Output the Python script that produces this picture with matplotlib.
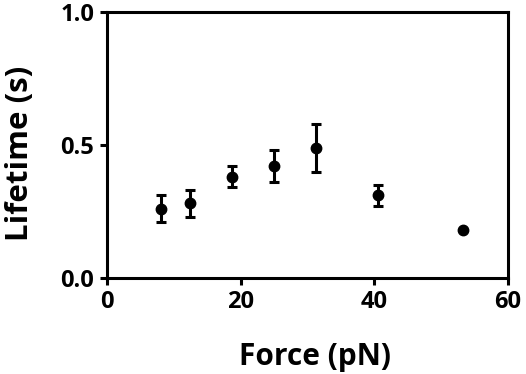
import matplotlib
matplotlib.use('Agg')
import matplotlib.pyplot as plt
import numpy as np

plt.rcParams['font.family'] = ['Open Sans', 'DejaVu Sans']
plt.rcParams['font.weight'] = 'bold'

force = [8.1, 12.4, 18.7, 25.0, 31.3, 40.6, 53.2]
lifetime = [0.26, 0.28, 0.38, 0.42, 0.49, 0.31, 0.18]
err = [0.05, 0.05, 0.04, 0.06, 0.09, 0.04, np.nan]

fig = plt.figure(figsize=(5.26, 3.74), dpi=100)
ax = fig.add_axes([0.203, 0.257, 0.763, 0.711])

ax.errorbar(force, lifetime, yerr=err, fmt='o', color='black',
            markersize=7.5, elinewidth=2.2, capsize=3.8, capthick=2.2)

ax.set_xlim(0, 60)
ax.set_ylim(0, 1.0)
ax.set_xticks([0, 20, 40, 60])
ax.set_yticks([0.0, 0.5, 1.0])
ax.set_yticklabels(['0.0', '0.5', '1.0'])

for s in ax.spines.values():
    s.set_linewidth(2.2)
ax.tick_params(width=2.2, length=5, labelsize=17, pad=4)
for lab in ax.get_xticklabels() + ax.get_yticklabels():
    lab.set_fontweight('bold')

ax.set_xlabel('Force (pN)', fontsize=21.5, fontweight='bold')
ax.set_ylabel('Lifetime (s)', fontsize=22.5, fontweight='bold')
ax.xaxis.set_label_coords(0.52, -0.24)
ax.yaxis.set_label_coords(-0.18, 0.47)

fig.savefig('out.png', dpi=100)
